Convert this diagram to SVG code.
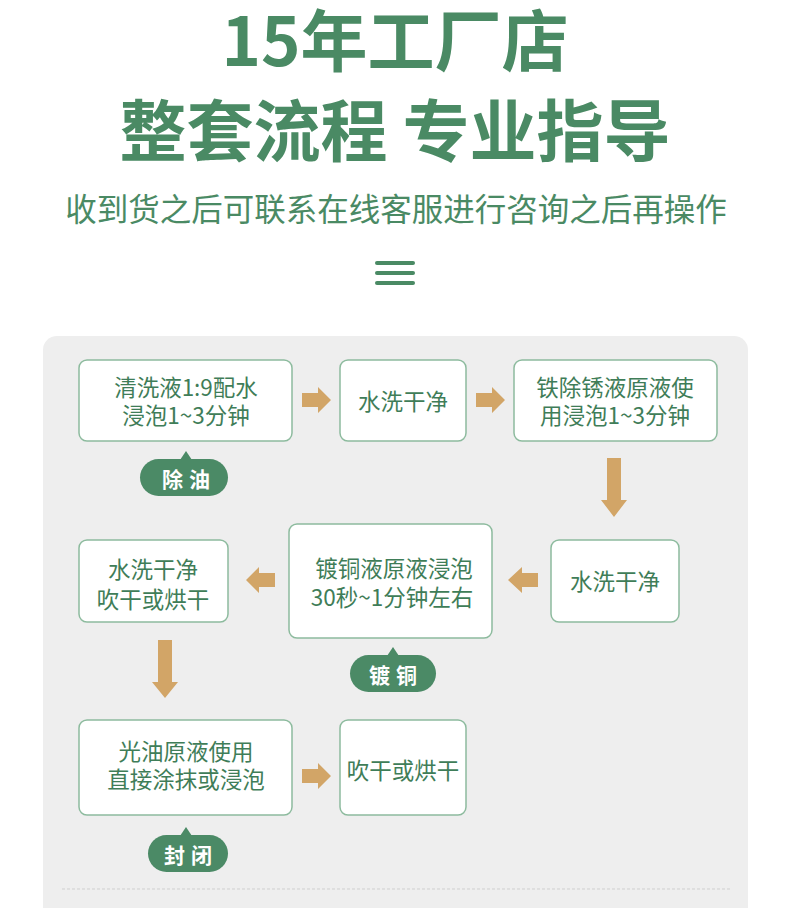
<svg xmlns="http://www.w3.org/2000/svg" width="790" height="908" viewBox="0 0 790 908">
<style>
.t{font-family:"Noto Sans CJK SC","Liberation Sans",sans-serif;fill:#4a8a64;text-anchor:middle}
.bx{fill:#fff;stroke:#8dbb9e;stroke-width:1.5}
.bt{font-family:"Noto Sans CJK SC","Liberation Sans",sans-serif;fill:#3f7d58;font-size:22.5px;text-anchor:middle;dominant-baseline:central}
.tag{fill:#4b8a66}
.tt{font-family:"Noto Sans CJK SC","Liberation Sans",sans-serif;fill:#fff;font-size:21px;font-weight:bold;letter-spacing:6px;text-anchor:middle;dominant-baseline:central}
.ar{fill:#d2a567}
</style>
<rect width="790" height="908" fill="#fff"/>
<text class="t" x="395" y="66" font-size="67" font-weight="bold">15年工厂店</text>
<text class="t" x="395" y="156" font-size="67" font-weight="bold">整套流程 专业指导</text>
<text class="t" x="396" y="221" font-size="31.5">收到货之后可联系在线客服进行咨询之后再操作</text>
<g stroke="#4a8a64" stroke-width="4" stroke-linecap="round">
<line x1="377" y1="263" x2="413" y2="263"/>
<line x1="377" y1="273" x2="413" y2="273"/>
<line x1="377" y1="283" x2="413" y2="283"/>
</g>
<rect x="43" y="336" width="705" height="600" rx="14" fill="#eeeeee"/>
<line x1="62" y1="889" x2="730" y2="889" stroke="#cfcfcf" stroke-width="1" stroke-dasharray="3 2"/>

<g id="n1"><rect class="bx" x="79" y="360" width="213" height="81" rx="8"/><text class="bt" x="186" y="386">清洗液1:9配水</text><text class="bt" x="186" y="414">浸泡1~3分钟</text></g>
<g id="n2"><rect class="bx" x="340" y="360" width="126" height="81" rx="8"/><text class="bt" x="403" y="400">水洗干净</text></g>
<g id="n3"><rect class="bx" x="514" y="360" width="203" height="81" rx="8"/><text class="bt" x="615" y="386">铁除锈液原液使</text><text class="bt" x="615" y="414">用浸泡1~3分钟</text></g>
<g id="n4"><rect class="bx" x="551" y="540" width="128" height="82" rx="8"/><text class="bt" x="615" y="580">水洗干净</text></g>
<g id="n5"><rect class="bx" x="289" y="524" width="203" height="114" rx="8"/><text class="bt" x="394" y="567">镀铜液原液浸泡</text><text class="bt" x="392" y="596">30秒~1分钟左右</text></g>
<g id="n6"><rect class="bx" x="79" y="540" width="149" height="82" rx="8"/><text class="bt" x="153" y="568">水洗干净</text><text class="bt" x="153" y="598">吹干或烘干</text></g>
<g id="n7"><rect class="bx" x="79" y="720" width="213" height="95" rx="8"/><text class="bt" x="186" y="750">光油原液使用</text><text class="bt" x="186" y="778">直接涂抹或浸泡</text></g>
<g id="n8"><rect class="bx" x="340" y="720" width="126" height="95" rx="8"/><text class="bt" x="403" y="769">吹干或烘干</text></g>

<g id="tag1"><rect class="tag" x="140" y="459" width="88" height="37" rx="18.5"/><path class="tag" d="M180 460 L186 451 L192 460 Z"/><text class="tt" x="189" y="478">除油</text></g>
<g id="tag2"><rect class="tag" x="350" y="655" width="86" height="37" rx="18.5"/><path class="tag" d="M387 656 L393 647 L399 656 Z"/><text class="tt" x="396" y="674">镀铜</text></g>
<g id="tag3"><rect class="tag" x="148" y="835" width="80" height="37" rx="18.5"/><path class="tag" d="M180 836 L186 827 L192 836 Z"/><text class="tt" x="191" y="854">封闭</text></g>

<g id="connectors">
<path class="ar" d="M302 393 H318 V387 L331 400 L318 413 V407 H302 Z"/>
<path class="ar" d="M476 393 H492 V387 L505 400 L492 413 V407 H476 Z"/>
<path class="ar" d="M607 458 H621 V500 H627 L614 517 L601 500 H607 Z"/>
<path class="ar" d="M538 573 H522 V567 L508 580 L522 593 V587 H538 Z"/>
<path class="ar" d="M275 573 H259 V567 L246 580 L259 593 V587 H275 Z"/>
<path class="ar" d="M158 640 H172 V682 H178 L165 698 L152 682 H158 Z"/>
<path class="ar" d="M302 769 H318 V763 L331 776 L318 789 V783 H302 Z"/>
</g>
</svg>
